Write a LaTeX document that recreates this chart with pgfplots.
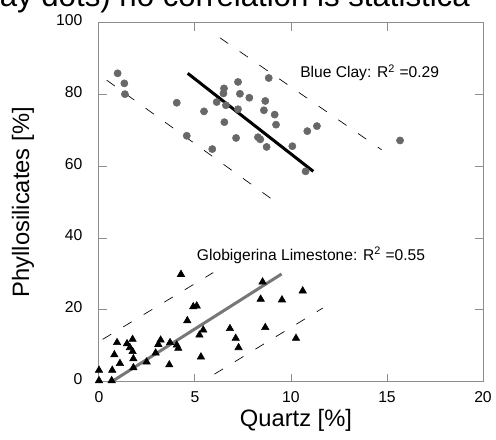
\documentclass[border=0pt]{standalone}
\usepackage{fontspec}
\setmainfont{Liberation Sans}
\usepackage{pgfplots}
\pgfplotsset{compat=1.18}
\definecolor{axgray}{HTML}{8C8C8C}
\definecolor{dotgray}{HTML}{686868}
\definecolor{linegray}{HTML}{777777}
\begin{document}
\begin{tikzpicture}
\path[use as bounding box, clip] (-74.25pt,-42.98pt) rectangle (297.75pt,286.28pt);
\node[anchor=base west, inner sep=0pt, font=\fontsize{23.4}{27}\selectfont] at (-74.6pt,281.2pt) {ay dots) no correlation is statistica};
\begin{axis}[
  at={(0,0)}, anchor=south west,
  scale only axis, width=288pt, height=269.25pt,
  xmin=0, xmax=20, ymin=0, ymax=100,
  xtick={0,5,10,15,20}, ytick={0,20,40,60,80,100},
  tick align=inside, major tick length=6pt,
  axis line style={draw=axgray, line width=0.75pt},
  every tick/.style={draw=axgray, line width=0.75pt},
  /pgf/number format/assume math mode=true,
  tick label style={font=\fontsize{11.8}{13}\selectfont},
  xticklabel style={yshift=-4pt},
  yticklabel style={xshift=-9pt, yshift=2pt},
  xlabel={Quartz [\%]}, ylabel={Phyllosilicates [\%]},
  label style={font=\fontsize{17.8}{20}\selectfont},
  xlabel style={at={(axis description cs:0.513,-0.126)}, anchor=base},
  ylabel style={at={(axis description cs:-0.198,0.5)}, anchor=center},
  clip=false,
]
% Blue Clay
\addplot[only marks, mark=*, mark size=2.7pt, color=dotgray] coordinates {
(0.97,85.9) (1.32,83.1) (1.35,80.1) (4.05,77.7) (4.57,68.5) (5.47,75.3)
(5.90,64.8) (6.13,77.9) (6.51,81.7) (6.48,80.3) (6.61,77.0) (6.53,72.3)
(7.24,83.5) (7.34,80.2) (7.24,75.9) (7.14,67.9) (7.83,79.1) (8.84,84.6)
(8.66,78.2) (8.59,75.6) (8.28,68.1) (8.40,67.5) (8.73,65.4) (9.15,74.4)
(9.22,71.6) (10.07,65.6) (10.85,69.8) (11.35,71.2) (10.76,58.6) (15.68,67.2)
};
\addplot[black, line width=2.25pt] coordinates {(4.62,85.9) (11.16,58.6)};
\addplot[black, line width=0.5pt, dash pattern=on 7.5pt off 10.5pt] coordinates {(6.30,95.8) (14.72,64.6)};
\addplot[black, line width=0.5pt, dash pattern=on 7.5pt off 10.5pt] coordinates {(0.40,84.0) (8.99,50.9)};
% Globigerina Limestone
\addplot[linegray, line width=2.25pt] coordinates {(0.66,0) (9.51,30.0)};
\addplot[black, line width=0.5pt, dash pattern=on 7.5pt off 10.5pt] coordinates {(0.19,11.8) (5.95,30.4)};
\addplot[black, line width=0.5pt, dash pattern=on 7.5pt off 10.5pt] coordinates {(6.01,2.1) (11.65,20.5)};
\addplot[only marks, mark=triangle*, mark size=3.2pt, color=black] coordinates {
(0,3.2) (0,0.3) (0.66,0.3) (0.69,3.2) (0.80,7.5) (0.94,10.9) (1.09,5.1)
(1.46,10.6) (1.61,9.5) (1.75,11.8) (1.75,8.4) (1.79,6.4) (1.79,3.9)
(2.48,5.5) (2.95,8.0) (3.09,10.4) (3.21,11.6) (3.70,10.9) (3.66,4.7)
(4.05,10.2) (4.13,9.3) (4.27,29.9) (4.60,17.0) (4.91,20.9) (5.09,21.1)
(5.23,13.0) (5.43,14.4) (5.31,6.9) (6.82,14.8) (7.12,12.1) (7.27,9.5)
(8.52,27.8) (8.42,23.0) (8.66,15.1) (9.53,22.8) (10.26,12.1) (10.61,25.3)
};
\node[anchor=base west, inner sep=0pt, font=\fontsize{11.7}{14}\selectfont] at (axis cs:10.47,84.6) {Blue Clay: R\textsuperscript{2} =0.29};
\node[anchor=base west, inner sep=0pt, font=\fontsize{11.7}{14}\selectfont] at (axis cs:5.09,33.9) {Globigerina Limestone: R\textsuperscript{2} =0.55};
\end{axis}
\end{tikzpicture}
\end{document}
